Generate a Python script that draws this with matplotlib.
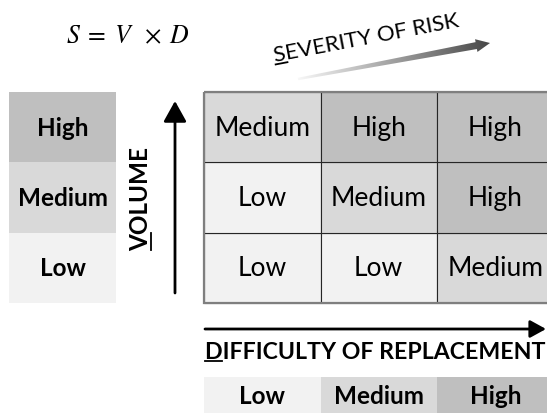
import numpy as np
import matplotlib
matplotlib.use('Agg')
import matplotlib.pyplot as plt
from matplotlib.patches import Rectangle, Polygon
from matplotlib.transforms import IdentityTransform

W, H = 547, 414

levels = ['Low', 'Medium', 'High']
# risk[row][col]: row 0 = low volume, col 0 = low difficulty
risk = [['Low', 'Low', 'Medium'],
        ['Low', 'Medium', 'High'],
        ['Medium', 'High', 'High']]
shade = {'Low': '#f2f2f2', 'Medium': '#d9d9d9', 'High': '#bfbfbf'}

plt.rcParams['font.family'] = ['Lato', 'DejaVu Sans']

fig = plt.figure(figsize=(W / 100, H / 100), dpi=100)
ax = fig.add_axes([0, 0, 1, 1])
ax.set_xlim(0, W)
ax.set_ylim(H, 0)
ax.set_autoscale_on(False)
ax.axis('off')

gx, gy = 204, 93
cw, rh = 116.5, 70.4

# risk matrix
for r in range(3):
    for c in range(3):
        lab = risk[r][c]
        top = gy + (2 - r) * rh
        ax.add_patch(Rectangle((gx + c * cw, top), cw, rh, fc=shade[lab], ec='#262626', lw=0.8))
        ax.text(gx + c * cw + cw / 2, top + rh / 2, lab, ha='center', va='center', fontsize=19)
ax.add_patch(Rectangle((gx, gy), 3 * cw, 3 * rh, fill=False, ec='#7f7f7f', lw=1.6))

# volume legend (left)
for r, lab in enumerate(levels):
    top = gy + (2 - r) * rh
    ax.add_patch(Rectangle((9, top), 107, rh, fc=shade[lab], ec='none'))
    ax.text(62.5, top + rh / 2, lab, ha='center', va='center', fontsize=17.5, fontweight='bold')

# difficulty legend (bottom)
for c, lab in enumerate(levels):
    ax.add_patch(Rectangle((gx + c * cw, 378), cw, 40, fc=shade[lab], ec='none'))
    ax.text(gx + c * cw + cw / 2, 397, lab, ha='center', va='center', fontsize=17.5, fontweight='bold')

# axis arrows
ax.annotate('', xy=(175, 102), xytext=(175, 294),
            arrowprops=dict(arrowstyle='-|>,head_length=0.45,head_width=0.25', lw=2,
                            color='black', mutation_scale=28, shrinkA=0, shrinkB=0))
ax.annotate('', xy=(546, 330), xytext=(205, 330),
            arrowprops=dict(arrowstyle='-|>,head_length=0.4,head_width=0.22', lw=2,
                            color='black', mutation_scale=24, shrinkA=0, shrinkB=0))

# gradient arrow for severity
p0 = np.array([298.0, 80.0])
p1 = np.array([490.0, 44.0])
u = (p1 - p0) / np.linalg.norm(p1 - p0)
n = np.array([-u[1], u[0]])
L = np.linalg.norm(p1 - p0)
neck = p1 - u * 14
pts = [p0 + n * 1.2, neck + n * 3.5, neck + n * 6.5, p1, neck - n * 6.5, neck - n * 3.5, p0 - n * 1.2]
poly = Polygon(pts, closed=True, fc='none', ec='none')
ax.add_patch(poly)
xs = np.linspace(285, 500, 230)
ys = np.linspace(30, 95, 70)
XX, YY = np.meshgrid(xs, ys)
t = np.clip(((XX - p0[0]) * u[0] + (YY - p0[1]) * u[1]) / L, 0, 1)
c0 = np.array([0.97, 0.97, 0.97])
c1 = np.array([0.28, 0.28, 0.28])
img = c0[None, None, :] * (1 - t[..., None]) + c1[None, None, :] * t[..., None]
im = ax.imshow(img, extent=(285, 500, 95, 30), origin='upper', aspect='auto', zorder=3)
im.set_clip_path(poly)

# formula
ax.text(66, 36, r'$S\;=\;V\;\;\times\;D$', ha='left', va='center', fontsize=18.5,
        math_fontfamily='stix')

renderer = fig.canvas.get_renderer()


def underlined(cx, cy, s, angle, size, weight):
    kw = dict(fontsize=size, fontweight=weight)
    tmp = ax.text(0, 0, s, **kw)
    wf = tmp.get_window_extent(renderer).width
    tmp.remove()
    tmp = ax.text(0, 0, s[0], **kw)
    w1 = tmp.get_window_extent(renderer).width
    tmp.remove()
    a = np.deg2rad(angle)
    du = np.array([np.cos(a), np.sin(a)])
    dn = np.array([-np.sin(a), np.cos(a)])
    cap = 0.72 * size * 100 / 72
    c = ax.transData.transform((cx, cy))
    base = c - du * wf / 2 - dn * cap / 2
    ax.text(base[0], base[1], s, transform=IdentityTransform(), rotation=angle,
            rotation_mode='anchor', ha='left', va='baseline', **kw)
    q0 = base - dn * 3
    q1 = q0 + du * w1
    ax.plot([q0[0], q1[0]], [q0[1], q1[1]], color='black', lw=1.3, transform=IdentityTransform())


underlined(366, 37, 'SEVERITY OF RISK', 10.8, 16, 'normal')
underlined(139, 199, 'VOLUME', 90, 17.5, 'bold')
underlined(375, 351, 'DIFFICULTY OF REPLACEMENT', 0, 16.7, 'bold')

fig.savefig('out.png', dpi=100)
